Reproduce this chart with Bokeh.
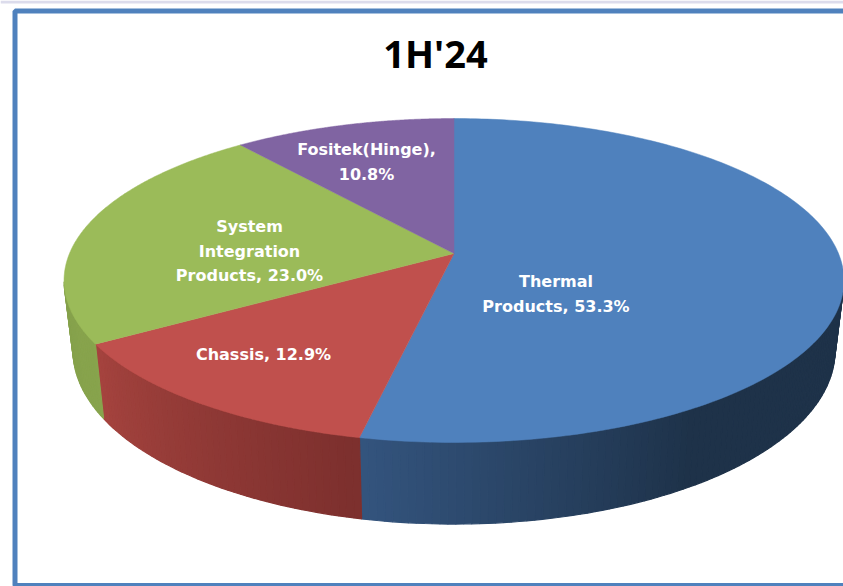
import numpy as np
from bokeh.embed import file_html
from bokeh.models import Range1d
from bokeh.plotting import figure
from bokeh.resources import INLINE
from bokeh.core.properties import value

# ---- data
categories = ["Thermal Products", "Chassis", "System Integration Products", "Fositek(Hinge)"]
shares = [53.3, 12.9, 23.0, 10.8]
top_colors = ["#4f81bd", "#c0504d", "#9bbb59", "#8064a2"]
wall_start = ["#34557f", "#a6443f", "#7f9a48", "#5c4878"]
wall_end = ["#1e3249", "#7d302e", "#88a44d", "#5c4878"]
label_lines = [["Thermal", "Products, 53.3%"], ["Chassis, 12.9%"],
               ["System", "Integration", "Products, 23.0%"], ["Fositek(Hinge),", "10.8%"]]
label_x = [555.5, 263, 249, 366]
label_y = [[281, 306], [354], [226, 251, 275], [149, 174]]
title = "1H'24"

# ---- layout
W, H = 843, 586
CX, APEX_Y, DEPTH_Y = 453.5, 253.0, 68.0
A_TOP, A_BOT, B, C = 384.5, 375.7, 115.3, -1 / 6
WALL_FROM, WALL_TO = np.radians(100), np.radians(260)


def project(theta, lower=False):
    u, v = np.sin(theta), -np.cos(theta)
    d = 1 + C * v
    a = A_BOT if lower else A_TOP
    y0 = APEX_Y + (DEPTH_Y if lower else 0)
    return CX + a * u / d, (y0 + B * v) / d


def hex_rgb(h):
    return np.array([int(h[i:i + 2], 16) for i in (1, 3, 5)], float)


p = figure(width=W, height=H, output_backend="svg", toolbar_location=None,
           x_range=Range1d(0, W), y_range=Range1d(H, 0),
           min_border=0, outline_line_color=None, background_fill_color="white",
           x_axis_type=None, y_axis_type=None)
p.grid.visible = False

# strip along the top edge and frame
p.quad(left=0, right=W, top=0, bottom=3, fill_color="#dcdcec", line_color=None)
p.quad(left=14.5, right=900, top=10.5, bottom=585, fill_color=None,
       line_color="#4f81bd", line_width=5)

edges = np.cumsum([0] + shares) / sum(shares) * 2 * np.pi

# walls: only the part facing the viewer; the top faces are drawn afterwards
for i in range(len(shares)):
    a0, a1 = edges[i], edges[i + 1]
    lo, hi = max(a0, WALL_FROM), min(a1, WALL_TO)
    if hi <= lo:
        continue
    n = max(4, int(np.degrees(hi - lo)))
    t = np.linspace(lo, hi, n + 1)
    xs, ys, cols = [], [], []
    c0, c1 = hex_rgb(wall_start[i]), hex_rgb(wall_end[i])
    for j in range(n):
        xt, yt = project(t[j:j + 2])
        xb, yb = project(t[j:j + 2], lower=True)
        xs.append(list(xt) + list(xb[::-1]))
        ys.append(list(yt) + list(yb[::-1]))
        if i == 0:
            # Thermal wall darkens from the front seam towards the right side
            f = np.clip((a1 - t[j]) / np.radians(45), 0, 1)
        else:
            f = (a1 - t[j]) / (a1 - a0)
        rgb = c0 + (c1 - c0) * f
        cols.append("#%02x%02x%02x" % tuple(int(v) for v in rgb))
    p.patches(xs, ys, fill_color=cols, line_color=cols, line_width=1.2)

# top faces
for i in range(len(shares)):
    t = np.linspace(edges[i], edges[i + 1], 200)
    x, y = project(t)
    p.patch([CX] + list(x), [APEX_Y] + list(y), fill_color=top_colors[i],
            line_color=top_colors[i], line_width=0.5)

# labels
for i in range(len(shares)):
    p.text(x=[label_x[i]] * len(label_lines[i]), y=label_y[i], text=label_lines[i],
           text_color="white", text_font=value("DejaVu Sans"), text_font_style="bold",
           text_font_size="16px", text_align="center", text_baseline="middle")

p.text(x=[435], y=[52], text=[title], text_color="black", text_font=value("Open Sans"),
       text_font_style="bold", text_font_size="38px", text_align="center",
       text_baseline="middle")

open("out.html", "w").write(file_html(p, INLINE))
